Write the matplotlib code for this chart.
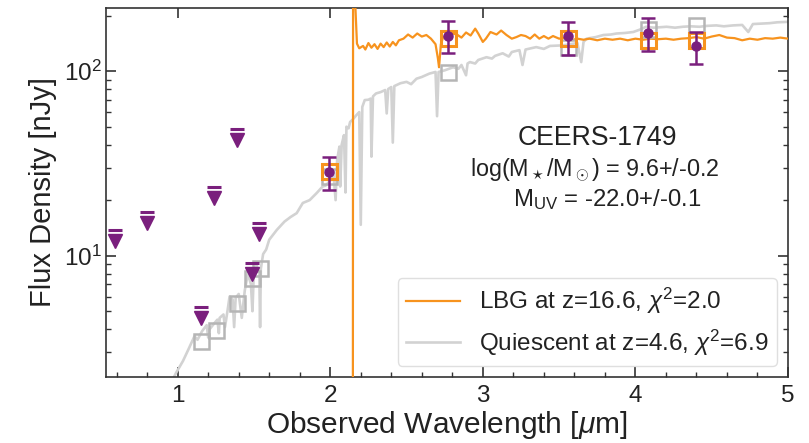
import numpy as np
import matplotlib
matplotlib.use('Agg')
import matplotlib.pyplot as plt
from matplotlib.transforms import offset_copy
from matplotlib.ticker import MultipleLocator, LogLocator, NullFormatter

plt.rcParams.update({
    'font.family': ['Liberation Sans', 'DejaVu Sans'],
    'mathtext.fontset': 'custom',
    'mathtext.rm': 'Liberation Sans',
    'mathtext.it': 'Liberation Sans:italic',
    'mathtext.bf': 'Liberation Sans:bold',
})

# ---- data ----
# LBG model spectrum (wavelength [um], flux [nJy]); flux below the break is ~0
lbg_spec = [
    (0.50, 0.01), (2.147, 0.01), (2.150, 2000), (2.158, 300), (2.175, 141),
    (2.19, 133), (2.215, 137), (2.23, 131), (2.25, 142), (2.27, 134), (2.29, 140),
    (2.31, 132), (2.33, 141), (2.35, 135), (2.37, 143), (2.39, 136), (2.41, 144),
    (2.43, 138), (2.45, 147), (2.48, 150), (2.51, 158), (2.54, 152), (2.57, 160),
    (2.60, 154), (2.63, 157), (2.66, 150), (2.69, 140), (2.705, 118), (2.713, 105),
    (2.725, 140), (2.74, 153), (2.77, 156), (2.80, 160), (2.83, 158), (2.86, 152),
    (2.89, 162), (2.92, 156), (2.95, 170), (2.97, 160), (3.00, 144), (3.02, 150),
    (3.05, 163), (3.09, 158), (3.12, 166), (3.155, 157), (3.19, 150), (3.22, 153),
    (3.25, 157), (3.28, 155), (3.31, 150), (3.34, 158), (3.37, 150), (3.40, 155),
    (3.43, 150), (3.46, 155), (3.50, 150), (3.54, 152), (3.58, 147), (3.62, 150),
    (3.66, 148), (3.70, 150), (3.75, 147), (3.80, 150), (3.85, 148), (3.90, 150),
    (3.95, 147), (4.00, 150), (4.05, 148), (4.10, 150), (4.15, 149), (4.20, 150),
    (4.25, 148), (4.30, 150), (4.35, 151), (4.40, 153), (4.45, 150), (4.50, 154),
    (4.55, 157), (4.60, 152), (4.65, 151), (4.70, 147), (4.75, 150), (4.80, 148),
    (4.85, 151), (4.90, 150), (4.95, 152), (5.00, 150),
]

# Quiescent model spectrum (wavelength [um], flux [nJy])
qui_spec = [
    (0.90, 1.6), (0.95, 2.0), (0.99, 2.32), (1.035, 2.69), (1.07, 3.1), (1.11, 3.66),
    (1.13, 3.5), (1.16, 3.9), (1.19, 4.2), (1.20, 3.6), (1.21, 4.0), (1.24, 4.3),
    (1.26, 4.5), (1.27, 3.8), (1.275, 4.6), (1.30, 4.8), (1.31, 4.1), (1.33, 5.25),
    (1.34, 6.0), (1.36, 5.8), (1.37, 4.1), (1.38, 5.9), (1.40, 6.2), (1.42, 4.6),
    (1.44, 6.5), (1.46, 8.0), (1.48, 7.0), (1.49, 5.0), (1.50, 8.5), (1.516, 8.9),
    (1.535, 8.0), (1.54, 4.1), (1.545, 8.5), (1.56, 10.2), (1.58, 10.8), (1.60, 12.2),
    (1.65, 13.8), (1.70, 15.3), (1.74, 16.2), (1.78, 17.0), (1.82, 19.3), (1.865, 20.0),
    (1.91, 21.8), (1.95, 23.7), (1.97, 24.0), (2.00, 25.5), (2.02, 28.6), (2.035, 20.0),
    (2.045, 33.0), (2.06, 39.0), (2.065, 23.7), (2.075, 40.0), (2.09, 45.0), (2.10, 22.0),
    (2.106, 50.0), (2.12, 49.0), (2.13, 53.0), (2.15, 55.0), (2.17, 57.6), (2.19, 60.0),
    (2.20, 14.7), (2.21, 64.0), (2.226, 69.7), (2.25, 70.0), (2.265, 71.0), (2.27, 34.4),
    (2.28, 73.0), (2.30, 75.7), (2.33, 77.0), (2.36, 79.0), (2.37, 59.0), (2.38, 80.0),
    (2.40, 82.0), (2.41, 41.0), (2.42, 83.0), (2.46, 86.0), (2.50, 87.5), (2.53, 85.0),
    (2.565, 91.0), (2.60, 93.0), (2.65, 97.0), (2.69, 99.0), (2.70, 57.0), (2.71, 99.0),
    (2.75, 101), (2.805, 105), (2.84, 103), (2.86, 108), (2.89, 95), (2.90, 110),
    (2.915, 112), (2.95, 110), (2.97, 115), (3.024, 119), (3.06, 117), (3.08, 121),
    (3.13, 125), (3.17, 120), (3.19, 127), (3.24, 130), (3.26, 108), (3.28, 131),
    (3.35, 135), (3.40, 132), (3.44, 137), (3.527, 138), (3.57, 140), (3.62, 142),
    (3.645, 112), (3.66, 144), (3.68, 150), (3.74, 153), (3.79, 157), (3.84, 158),
    (3.877, 160), (3.93, 161), (3.986, 163), (4.03, 168), (4.07, 174), (4.12, 172),
    (4.205, 174), (4.26, 172), (4.31, 174), (4.36, 175), (4.42, 174), (4.47, 176),
    (4.53, 177), (4.58, 175), (4.64, 177), (4.70, 178), (4.74, 163), (4.77, 180),
    (4.82, 181), (4.88, 182), (4.93, 184), (5.00, 185),
]

# Observed photometry: detections
det_wave = [1.99, 2.77, 3.56, 4.08, 4.40]
det_flux = [28.5, 156, 155, 161, 137]
det_err_lo = [5.7, 31, 33, 32, 28]
det_err_hi = [5.9, 31, 30, 34, 26]

# Observed photometry: upper limits
ulim_wave = [0.59, 0.80, 1.15, 1.24, 1.39, 1.49, 1.53]
ulim_flux = [13.8, 17.3, 5.3, 23.7, 48.5, 9.1, 15.0]

# Model photometry
lbg_phot_wave = [1.99, 2.77, 3.56, 4.08, 4.40]
lbg_phot_flux = [28.8, 152, 152, 148, 148]
qui_phot_wave = [1.15, 1.25, 1.39, 1.49, 1.54, 1.99, 2.77, 3.56, 4.08, 4.40]
qui_phot_flux = [3.44, 3.95, 5.55, 7.57, 8.6, 27.0, 99, 135, 170, 177]

lbg_label = r'LBG at z=16.6, $\chi^2$=2.0'
qui_label = r'Quiescent at z=4.6, $\chi^2$=6.9'

# ---- plot ----
ORANGE = '#f7931e'
GRAY = '#d2d2d2'
PURPLE = '#7a1f7d'
DARK = '#333333'
TXT = '#222222'

fig = plt.figure(figsize=(8.09, 4.43), dpi=100)
ax = fig.add_axes([0.131, 0.149, 0.843, 0.833])

lw_, lf_ = np.array(lbg_spec).T
qw_, qf_ = np.array(qui_spec).T

ax.plot(qw_, qf_, color=GRAY, lw=1.9, label=qui_label, zorder=2)
ax.plot(lw_, lf_, color=ORANGE, lw=1.6, label=lbg_label, zorder=3)

ax.plot(qui_phot_wave, qui_phot_flux, ls='none', marker='s', ms=10.8,
        mfc='none', mec='#b5b5b5', mew=1.8, zorder=4)
ax.plot(lbg_phot_wave, lbg_phot_flux, ls='none', marker='s', ms=10.8,
        mfc='none', mec=ORANGE, mew=2.2, zorder=5)

yerr = np.array([det_err_lo, det_err_hi])
ax.errorbar(det_wave, det_flux, yerr=yerr, fmt='o', color=PURPLE, ms=6.5,
            elinewidth=1.8, capsize=5, capthick=1.8, zorder=6)

# upper limits: bar at the limit with a downward triangle just below
ax.plot(ulim_wave, ulim_flux, ls='none', marker='_', ms=10.5, mew=2.2,
        color=PURPLE, zorder=6)
tri_tr = offset_copy(ax.transData, fig=fig, x=0, y=-8.0, units='points')
ax.plot(ulim_wave, ulim_flux, ls='none', marker='v', ms=10.5, color=PURPLE,
        transform=tri_tr, zorder=6)

ax.set_yscale('log')
ax.set_xlim(0.53, 5.0)
ax.set_ylim(2.2, 220)

ax.xaxis.set_major_locator(MultipleLocator(1))
ax.xaxis.set_minor_locator(MultipleLocator(0.2))
ax.yaxis.set_major_locator(LogLocator(base=10, numticks=10))
ax.yaxis.set_minor_locator(LogLocator(base=10, subs=np.arange(2, 10), numticks=20))
ax.yaxis.set_minor_formatter(NullFormatter())

ax.tick_params(which='both', direction='in', top=True, right=True,
               color=DARK, labelcolor=TXT, labelsize=17.5)
ax.tick_params(axis='x', which='major', pad=6)
ax.tick_params(axis='y', which='major', pad=3)
ax.tick_params(which='major', length=7, width=1.2)
ax.tick_params(which='minor', length=3.8, width=1.0, top=False)
for s in ax.spines.values():
    s.set_color(DARK)
    s.set_linewidth(1.2)

ax.set_xlabel(r'Observed Wavelength [$\mu$m]', fontsize=21.5, color=TXT, labelpad=1)
ax.set_ylabel('Flux Density [nJy]', fontsize=21, color=TXT, labelpad=5)

ax.text(0.72, 0.648, 'CEERS-1749', transform=ax.transAxes, fontsize=19.2,
        ha='center', va='center', color=TXT)
ax.text(0.717, 0.561, r'log(M$_\star$/M$_\odot$) = 9.6+/-0.2', transform=ax.transAxes,
        fontsize=16.8, ha='center', va='center', color=TXT)
ax.text(0.735, 0.48, r'M$_{\mathrm{UV}}$ = -22.0+/-0.1', transform=ax.transAxes,
        fontsize=17.2, ha='center', va='center', color=TXT)

leg = ax.legend(handles=ax.get_lines()[1::-1], loc='lower right', fontsize=17.5,
                frameon=True, fancybox=True, framealpha=0.8, edgecolor='#d8d8d8',
                borderaxespad=0.45, handlelength=2.2, handletextpad=0.8,
                borderpad=0.35, labelspacing=0.45, labelcolor=TXT)

fig.savefig('out.png', dpi=100)
